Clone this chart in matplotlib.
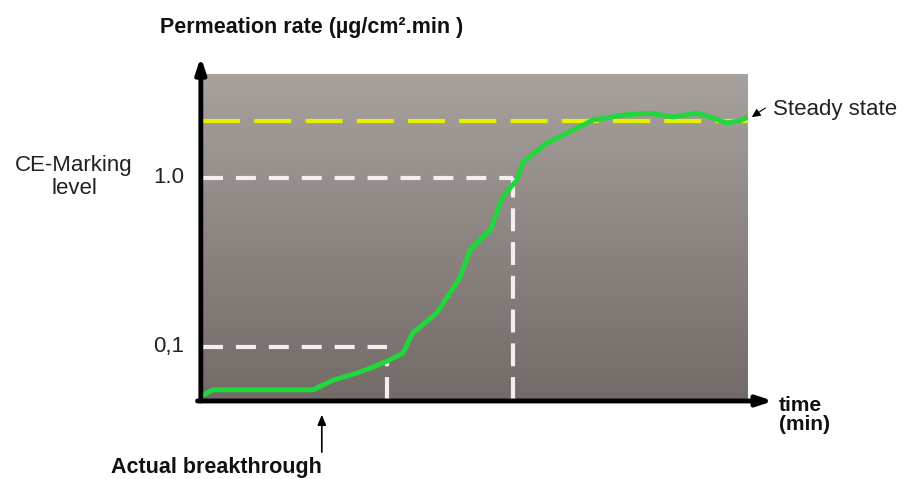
import numpy as np
import matplotlib
matplotlib.use("Agg")
import matplotlib.pyplot as plt
from matplotlib.colors import LinearSegmentedColormap

# ---- data (schematic units: time 0-100, rate 0-100) ----
time = [0, 1.8, 20.2, 23.9, 28.3, 31.2, 34.3, 36.7, 38.5, 42.9, 45.3, 47.2, 49.0,
        50.8, 52.7, 53.9, 55.0, 57.6, 58.7, 63.1, 67.9, 71.6, 77.1, 82.0, 86.2,
        90.6, 93.0, 96.1, 98.5, 100]
rate = [1.5, 3.1, 3.1, 6.1, 8.3, 10.1, 12.3, 14.4, 20.6, 26.7, 32.8, 37.7, 46.0,
        49.1, 52.1, 57.4, 62.3, 67.5, 73.0, 78.8, 82.8, 85.9, 87.4, 88.0, 86.8,
        88.0, 86.8, 85.0, 85.6, 86.8]
steady_level = 85.6
ce_level = 68.1          # "1.0"
ce_time = 56.9
low_level = 16.3         # "0,1"
low_time = 33.8
low_curve = 12.0
tick_positions = [low_level, ce_level]
tick_labels = ["0,1", "1.0"]
breakthrough_time = 21.8

W, H = 909, 479
fig = plt.figure(figsize=(W / 100, H / 100), dpi=100)
plt.rcParams['font.family'] = ['Liberation Sans', 'DejaVu Sans']

def fx(px):
    return px / W

def fy(py):
    return 1 - py / H

ax = fig.add_axes([fx(203), fy(400), fx(748) - fx(203), fy(74) - fy(400)])
ax.set_xlim(0, 100)
ax.set_ylim(0, 100)

# gradient background
cmap = LinearSegmentedColormap.from_list("bg", ["#736b67", "#8c8582", "#a8a29f"])
grad = np.linspace(0, 1, 256).reshape(-1, 1)
ax.imshow(grad, extent=[0, 100, 0, 100], origin="lower", aspect="auto",
          cmap=cmap, zorder=0)

for s in ax.spines.values():
    s.set_visible(False)
ax.set_xticks([])
ax.set_yticks([])

# reference lines
ax.plot([0, 100], [steady_level, steady_level], color="#e6f000", lw=3,
        dashes=(8.9, 3.4), zorder=2)
ax.plot([0, ce_time], [ce_level, ce_level], color="#f2efee", lw=3,
        dashes=(4.8, 3.1), zorder=2)
ax.plot([ce_time, ce_time], [0, ce_level], color="#f2efee", lw=3,
        dashes=(5.5, 2.6), zorder=2)
ax.plot([0, low_time], [low_level, low_level], color="#f2efee", lw=3,
        dashes=(4.8, 3.1), zorder=2)
ax.plot([low_time, low_time], [0, low_curve], color="#f2efee", lw=3,
        dashes=(5.5, 2.6), zorder=2)

# curve
ax.plot(time, rate, color="#1fd83c", lw=3.5, zorder=3, solid_capstyle="round")

# axis arrows
ax.annotate("", xy=(-0.004, 1.052), xytext=(-0.004, -0.003),
            xycoords="axes fraction", textcoords="axes fraction",
            arrowprops=dict(arrowstyle="-|>,head_length=0.9,head_width=0.3",
                            color="black", lw=3.5, shrinkA=0, shrinkB=0),
            annotation_clip=False, zorder=5)
ax.annotate("", xy=(1.046, -0.003), xytext=(-0.01, -0.003),
            xycoords="axes fraction", textcoords="axes fraction",
            arrowprops=dict(arrowstyle="-|>,head_length=0.9,head_width=0.3",
                            color="black", lw=3.5, shrinkA=0, shrinkB=0),
            annotation_clip=False, zorder=5)

# tick labels
for v, lab in zip(tick_positions, tick_labels):
    ax.text(-0.035, v / 100, lab, transform=ax.transAxes, ha="right", va="center",
            fontsize=16, color="#222222")

# texts
fig.text(fx(160), fy(27), "Permeation rate (µg/cm².min )", fontsize=15.5,
         fontweight="bold", ha="left", va="center", color="#111111")
fig.text(fx(74), fy(177), "CE-Marking\nlevel", fontsize=16, ha="center",
         va="center", color="#222222", linespacing=1.15)
fig.text(fx(773), fy(109), "Steady state", fontsize=16, ha="left", va="center",
         color="#222222")
fig.text(fx(779), fy(415), "time\n(min)", fontsize=15, fontweight="bold",
         ha="left", va="center", color="#111111", linespacing=1.05)
fig.text(fx(216), fy(468), "Actual breakthrough", fontsize=15.5,
         fontweight="bold", ha="center", va="center", color="#111111")

# steady state small arrow
ax.annotate("", xy=(100.7, rate[-1]), xytext=(103.2, 89.6),
            xycoords="data", textcoords="data",
            arrowprops=dict(arrowstyle="-|>,head_length=0.5,head_width=0.25",
                            color="black", lw=0.8, shrinkA=0, shrinkB=0),
            annotation_clip=False)

# breakthrough arrow
ax.annotate("", xy=(breakthrough_time, -4.5), xytext=(breakthrough_time, -16),
            xycoords="data", textcoords="data",
            arrowprops=dict(arrowstyle="-|>,head_length=0.6,head_width=0.25",
                            color="black", lw=1.2, shrinkA=0, shrinkB=0),
            annotation_clip=False)

fig.savefig("out.png", dpi=100, facecolor="white")
